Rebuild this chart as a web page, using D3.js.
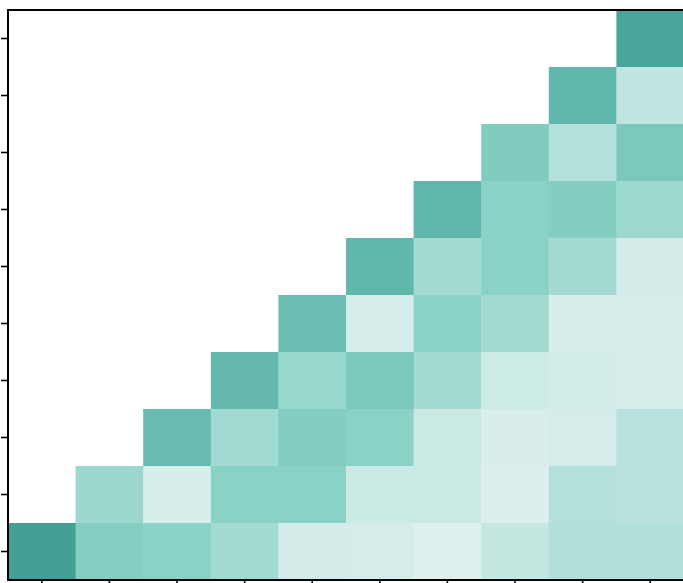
<!DOCTYPE html>
<html>
<head>
<meta charset="utf-8">
<script src="https://cdn.jsdelivr.net/npm/d3@7"></script>
<style>
  html, body { margin: 0; padding: 0; background: #fff; }
  svg { display: block; }
</style>
</head>
<body>
<svg id="chart" width="683" height="583"></svg>
<script>
// Categories (no labels are shown in the reference, only ticks)
const xCategories = ["V1", "V2", "V3", "V4", "V5", "V6", "V7", "V8", "V9", "V10"];
const yCategories = ["V10", "V9", "V8", "V7", "V6", "V5", "V4", "V3", "V2", "V1"];

// Cell values, row by row from top; null = empty cell
const row0 = [null, null, null, null, null, null, null, null, null, 0.97];
const row1 = [null, null, null, null, null, null, null, null, 0.85, 0.27];
const row2 = [null, null, null, null, null, null, null, 0.68, 0.37, 0.72];
const row3 = [null, null, null, null, null, null, 0.85, 0.60, 0.66, 0.50];
const row4 = [null, null, null, null, null, 0.85, 0.47, 0.60, 0.47, 0.12];
const row5 = [null, null, null, null, 0.80, 0.10, 0.60, 0.48, 0.07, 0.09];
const row6 = [null, null, null, 0.84, 0.53, 0.72, 0.48, 0.18, 0.14, 0.09];
const row7 = [null, null, 0.82, 0.49, 0.66, 0.60, 0.20, 0.06, 0.10, 0.35];
const row8 = [null, 0.51, 0.07, 0.60, 0.60, 0.19, 0.20, 0.03, 0.38, 0.32];
const row9 = [1.00, 0.65, 0.60, 0.47, 0.12, 0.10, 0.00, 0.25, 0.39, 0.39];
const rows = [row0, row1, row2, row3, row4, row5, row6, row7, row8, row9];

// Colour scale stops
const colorStops = [0, 0.2, 0.38, 0.5, 0.6, 0.72, 0.85, 1];
const colorRange = ["#e0f0ee", "#cae9e5", "#b3e0db", "#9ed9cf", "#8bd2c6", "#7bc9bc", "#62b7ad", "#43a096"];

const svg = d3.select("#chart");
const mLeft = 8, mTop = 10, mRight = 684, mBottom = 580;

const x = d3.scaleBand().domain(xCategories).range([mLeft, mRight]).padding(0);
const y = d3.scaleBand().domain(yCategories).range([mTop, mBottom]).padding(0);
const color = d3.scaleLinear().domain(colorStops).range(colorRange).clamp(true);

const cells = [];
rows.forEach((r, ri) => r.forEach((v, ci) => {
  if (v !== null) cells.push({ xc: xCategories[ci], yc: yCategories[ri], v });
}));

svg.append("g").selectAll("rect").data(cells).join("rect")
  .attr("x", d => x(d.xc))
  .attr("y", d => y(d.yc))
  .attr("width", x.bandwidth() + 0.5)
  .attr("height", y.bandwidth() + 0.5)
  .attr("fill", d => color(d.v));

// Axes: ticks only
const yAxis = svg.append("g").attr("transform", `translate(${mLeft},0)`)
  .call(d3.axisLeft(y).tickSize(7).tickFormat(""));
const xAxis = svg.append("g").attr("transform", `translate(0,${mBottom})`)
  .call(d3.axisBottom(x).tickSize(7).tickFormat(""));
[yAxis, xAxis].forEach(g => {
  g.select(".domain").remove();
  g.selectAll(".tick line").attr("stroke", "#000").attr("stroke-width", 1.6);
});

// Frame
svg.append("rect")
  .attr("x", mLeft).attr("y", mTop)
  .attr("width", mRight - mLeft).attr("height", mBottom - mTop)
  .attr("fill", "none").attr("stroke", "#000").attr("stroke-width", 2);
</script>
</body>
</html>
